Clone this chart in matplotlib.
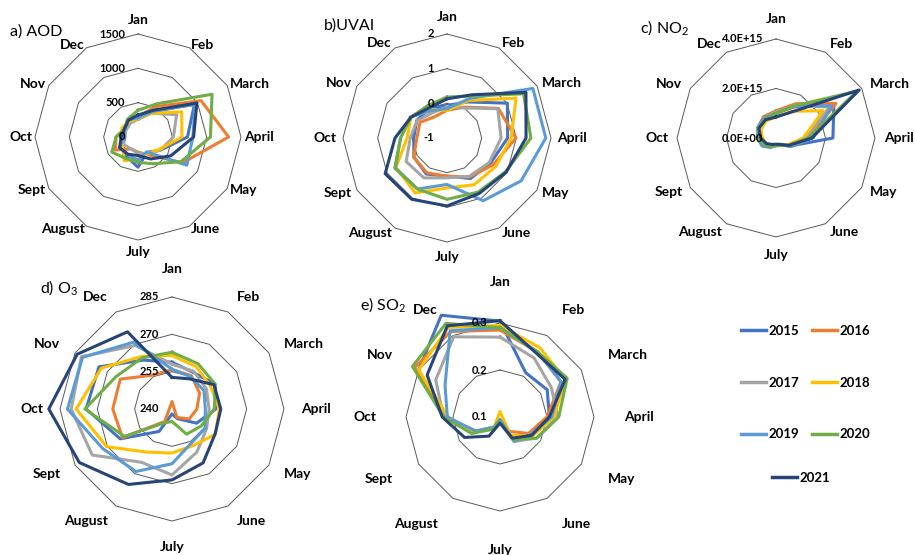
import matplotlib
matplotlib.use('Agg')
import matplotlib.pyplot as plt
import numpy as np
from matplotlib.lines import Line2D

plt.rcParams['font.family'] = ['Lato', 'DejaVu Sans']
plt.rcParams['mathtext.default'] = 'regular'

months = ['Jan', 'Feb', 'March', 'April', 'May', 'June', 'July',
          'August', 'Sept', 'Oct', 'Nov', 'Dec']
years = ['2015', '2016', '2017', '2018', '2019', '2020', '2021']
colors = ['#4472C4', '#ED7D31', '#A5A5A5', '#FFC000', '#5B9BD5', '#70AD47', '#264478']

# one row per year (2015..2021), Jan..Dec
aod = [
    [260, 430, 950, 720, 380, 260, 440, 330, 260, 190, 220, 300],
    [290, 510, 1060, 1320, 750, 300, 220, 200, 380, 320, 230, 250],
    [260, 400, 650, 515, 380, 280, 240, 200, 230, 220, 200, 230],
    [270, 400, 735, 640, 360, 280, 315, 400, 260, 230, 270, 260],
    [280, 430, 960, 800, 820, 250, 340, 300, 310, 200, 230, 290],
    [390, 560, 1245, 1055, 720, 450, 370, 360, 440, 320, 230, 300],
    [320, 450, 990, 810, 550, 370, 270, 290, 310, 245, 230, 280],
]
uvai = [
    [-0.06, 0.20, 1.01, 0.75, 0.45, 0.35, 0.10, 0.20, 0.10, -0.04, 0.01, 0.00],
    [-0.20, 0.03, 0.71, 0.99, 0.54, 0.30, 0.10, 0.16, 0.11, -0.13, -0.10, -0.29],
    [-0.10, 0.00, 0.69, 0.56, 0.41, 0.28, 0.15, 0.33, 0.36, 0.06, 0.00, -0.16],
    [-0.20, 0.25, 1.30, 0.85, 0.63, 0.56, 0.44, 0.83, 0.70, 0.15, 0.20, -0.05],
    [-0.15, 0.32, 1.86, 1.85, 1.47, 1.09, 0.34, 0.70, 0.72, 0.34, 0.22, -0.09],
    [0.18, 0.40, 1.55, 1.42, 0.95, 0.80, 0.77, 0.70, 0.74, 0.34, 0.20, 0.09],
    [0.13, 0.44, 1.63, 1.28, 0.97, 0.85, 0.96, 1.04, 1.06, 0.50, 0.20, 0.01],
]
no2 = [  # x 1e15
    [1.00, 1.45, 2.70, 2.30, 0.65, 0.30, 0.30, 0.40, 0.60, 0.65, 0.80, 0.90],
    [1.10, 1.60, 2.80, 1.30, 0.60, 0.30, 0.30, 0.35, 0.50, 0.70, 0.85, 1.00],
    [1.05, 1.50, 2.50, 1.20, 0.55, 0.30, 0.30, 0.35, 0.50, 0.65, 0.80, 0.95],
    [0.85, 1.25, 2.20, 1.10, 0.55, 0.30, 0.30, 0.35, 0.45, 0.55, 0.70, 0.80],
    [1.00, 1.50, 2.60, 1.50, 0.70, 0.30, 0.30, 0.45, 0.65, 0.75, 0.85, 0.95],
    [1.00, 1.50, 3.80, 1.30, 0.60, 0.35, 0.32, 0.40, 0.55, 0.70, 0.80, 0.90],
    [0.85, 1.20, 3.88, 1.45, 0.60, 0.30, 0.25, 0.30, 0.45, 0.62, 0.80, 0.85],
]
o3 = [
    [258.8, 257.0, 260.0, 257.6, 251.4, 244.5, 242.0, 250.4, 264.0, 274.5, 273.9, 262.7],
    [255.8, 255.5, 252.8, 250.0, 248.0, 243.9, 237.0, 245.8, 263.0, 263.8, 264.0, 255.7],
    [258.0, 257.5, 256.0, 254.9, 256.0, 260.0, 266.5, 264.7, 277.0, 280.5, 282.0, 269.5],
    [261.5, 259.6, 258.0, 259.0, 260.2, 257.0, 257.7, 260.0, 270.3, 278.5, 272.8, 264.4],
    [256.0, 255.0, 254.8, 253.4, 255.4, 255.7, 262.0, 269.0, 272.0, 282.0, 281.5, 271.0],
    [262.8, 261.0, 260.0, 257.0, 253.6, 251.7, 245.0, 246.5, 262.0, 275.0, 266.0, 263.8],
    [252.7, 254.0, 259.5, 259.6, 260.0, 265.0, 268.5, 275.0, 283.0, 289.5, 284.0, 275.8],
]
so2 = [
    [0.304, 0.209, 0.216, 0.205, 0.180, 0.150, 0.105, 0.125, 0.160, 0.220, 0.300, 0.350],
    [0.285, 0.260, 0.250, 0.200, 0.170, 0.135, 0.110, 0.125, 0.165, 0.215, 0.310, 0.310],
    [0.270, 0.245, 0.226, 0.223, 0.190, 0.160, 0.110, 0.130, 0.160, 0.220, 0.258, 0.297],
    [0.295, 0.270, 0.260, 0.215, 0.180, 0.145, 0.088, 0.125, 0.165, 0.210, 0.300, 0.320],
    [0.290, 0.260, 0.250, 0.210, 0.175, 0.160, 0.105, 0.125, 0.160, 0.212, 0.235, 0.312],
    [0.290, 0.260, 0.265, 0.225, 0.190, 0.155, 0.110, 0.130, 0.170, 0.220, 0.315, 0.330],
    [0.305, 0.256, 0.260, 0.205, 0.178, 0.152, 0.113, 0.147, 0.187, 0.223, 0.279, 0.324],
]

W, H = 915, 555
fig = plt.figure(figsize=(W / 100, H / 100), dpi=100)
ang = np.arange(12) * 2 * np.pi / 12


def panel(cx, cy, R, vmin, vmax, ticks, ticklabels, data, lab_r, title, tx, ty):
    lim = 1.5
    ax = fig.add_axes([(cx - lim * R) / W, 1 - (cy + lim * R) / H,
                       2 * lim * R / W, 2 * lim * R / H])
    ax.set_xlim(-lim, lim)
    ax.set_ylim(-lim, lim)
    ax.axis('off')

    def xy(v):
        # excel style radar: values below the minimum flip through the centre
        r = (np.asarray(v, dtype=float) - vmin) / (vmax - vmin)
        r = np.append(r, r[0])
        a = np.append(ang, ang[0])
        return r * np.sin(a), r * np.cos(a)

    for t in ticks[1:]:
        x, y = xy(np.full(12, t))
        ax.plot(x, y, color='#595959', lw=0.7, zorder=1)
    for t, s in zip(ticks, ticklabels):
        r = (t - vmin) / (vmax - vmin)
        ax.text(-13 / R, r, s, ha='right', va='center', fontsize=8,
                fontweight='bold', zorder=4)
    for vals, c in zip(data, colors):
        x, y = xy(vals)
        ax.plot(x, y, color=c, lw=2.2, solid_joinstyle='round', zorder=2)
    for i, m in enumerate(months):
        s, co = np.sin(ang[i]), np.cos(ang[i])
        ha = 'center' if abs(s) < 0.1 else ('left' if s > 0 else 'right')
        va = 'bottom' if co > 0.9 else ('top' if co < -0.9 else 'center')
        rr = lab_r + (5 if co > 0.9 else 3 if co < -0.9 else 0)
        ax.text(rr / R * s, rr / R * co, m, ha=ha, va=va, fontsize=10,
                fontweight='bold', clip_on=False)
    fig.text(tx / W, 1 - ty / H, title, ha='left', va='center', fontsize=11.5)
    return ax


panel(138, 137, 103, 0, 1500, [0, 500, 1000, 1500], ['0', '500', '1000', '1500'],
      aod, 106, 'a) AOD', 10, 32)
panel(447, 138, 104, -1, 2, [-1, 0, 1, 2], ['-1', '0', '1', '2'],
      uvai, 110, 'b)UVAI', 324, 26)
panel(776, 138, 99, 0, 4, [0, 2, 4], ['0.0E+00', '2.0E+15', '4.0E+15'],
      no2, 108, 'c) NO$_2$', 640, 28)
panel(172, 409, 112, 240, 285, [240, 255, 270, 285], ['240', '255', '270', '285'],
      o3, 129, 'd) O$_3$', 40, 288)
panel(500, 417, 94, 0.1, 0.3, [0.1, 0.2, 0.3], ['0.1', '0.2', '0.3'],
      so2, 124, 'e) SO$_2$', 360, 305)

hs = [Line2D([], [], color=c, lw=2.5) for c in colors]
order = [0, 2, 4, 1, 3, 5]
kw = dict(frameon=False, prop={'weight': 'bold', 'size': 9.5}, handlelength=1.9,
          handletextpad=0.15, borderpad=0, borderaxespad=0, loc='upper left')
fig.legend([hs[i] for i in order], [years[i] for i in order], ncol=2,
           bbox_to_anchor=(741 / W, 1 - 325 / H), columnspacing=1.0,
           labelspacing=3.0, **kw)
fig.legend([hs[6]], [years[6]], bbox_to_anchor=(772 / W, 1 - 472 / H), **kw)

fig.savefig('out.png', dpi=100)
